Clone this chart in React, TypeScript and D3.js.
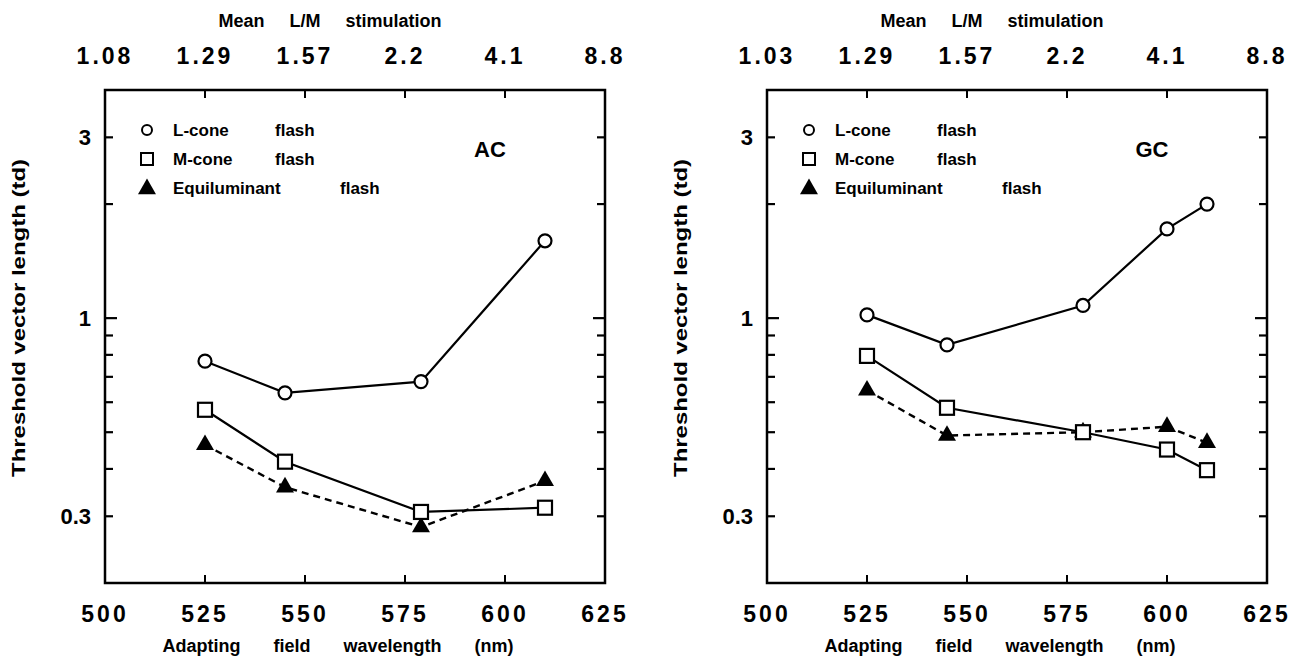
import React from "react";
import * as d3 from "d3";

const wavelengthsAC = [525, 545, 579, 610];
const lConeAC = [0.77, 0.635, 0.68, 1.6];
const mConeAC = [0.573, 0.418, 0.308, 0.316];
const equiAC = [0.463, 0.358, 0.281, 0.372];

const wavelengthsGC = [525, 545, 579, 600, 610];
const lConeGC = [1.02, 0.85, 1.08, 1.72, 2.0];
const mConeGC = [0.795, 0.58, 0.5, 0.45, 0.397];
const equiGC = [0.645, 0.49, 0.5, 0.517, 0.469];

const xTicks = [500, 525, 550, 575, 600, 625];
const topLabelsAC = ["1.08", "1.29", "1.57", "2.2", "4.1", "8.8"];
const topLabelsGC = ["1.03", "1.29", "1.57", "2.2", "4.1", "8.8"];
const yMinorTicks = [0.3, 0.4, 0.5, 0.6, 0.7, 0.8, 0.9, 1, 2, 3];
const yLabels = [3, 1, 0.3];
const legendItems = ["L-cone", "M-cone", "Equiluminant"];

const FONT = "'Liberation Sans', Arial, sans-serif";

type PanelProps = {
  ox: number;
  name: string;
  topLabels: string[];
  wl: number[];
  l: number[];
  m: number[];
  e: number[];
};

function Panel({ ox, name, topLabels, wl, l, m, e }: PanelProps) {
  const left = ox + 105;
  const right = ox + 605;
  const top = 90;
  const bottom = 583;
  const x = d3.scaleLinear().domain([500, 625]).range([left, right]);
  const y = d3.scaleLog().domain([0.2, 4]).range([bottom, top]);
  const line = d3
    .line<[number, number]>()
    .x((d) => x(d[0]))
    .y((d) => y(d[1]));
  const pts = (vals: number[]) => wl.map((w, i) => [w, vals[i]] as [number, number]);
  const tri = d3.symbol().type(d3.symbolTriangle).size(140)();
  const black = "#000";

  return (
    <g>
      <rect x={left} y={top} width={right - left} height={bottom - top} fill="none" stroke={black} strokeWidth={2.5} />
      {xTicks.slice(1, -1).map((t) => (
        <g key={"xt" + t}>
          <line x1={x(t)} x2={x(t)} y1={top} y2={top + 8} stroke={black} strokeWidth={2} />
          <line x1={x(t)} x2={x(t)} y1={bottom} y2={bottom - 8} stroke={black} strokeWidth={2} />
        </g>
      ))}
      {yMinorTicks.map((t) => {
        const len = t === 1 ? 12 : 8;
        return (
          <g key={"yt" + t}>
            <line x1={left} x2={left + len} y1={y(t)} y2={y(t)} stroke={black} strokeWidth={2.2} />
            <line x1={right} x2={right - len} y1={y(t)} y2={y(t)} stroke={black} strokeWidth={2.2} />
          </g>
        );
      })}
      {yLabels.map((t) => (
        <text key={"yl" + t} x={left - 14} y={y(t) + 8} textAnchor="end" fontFamily={FONT} fontSize={22} fontWeight="bold">
          {String(t)}
        </text>
      ))}
      {xTicks.map((t) => (
        <text key={"bl" + t} x={x(t)} y={622} textAnchor="middle" fontFamily={FONT} fontSize={23} fontWeight="bold" letterSpacing={3}>
          {String(t)}
        </text>
      ))}
      {xTicks.map((t, i) => (
        <text key={"tl" + t} x={x(t)} y={64} textAnchor="middle" fontFamily={FONT} fontSize={23} fontWeight="bold" letterSpacing={3}>
          {topLabels[i]}
        </text>
      ))}
      <text x={ox + 330} y={27} textAnchor="middle" fontFamily={FONT} fontSize={18} fontWeight="bold" wordSpacing={20}>
        Mean L/M stimulation
      </text>
      <text x={ox + 338} y={652} textAnchor="middle" fontFamily={FONT} fontSize={18} fontWeight="bold" wordSpacing={28}>
        Adapting field wavelength (nm)
      </text>
      <text
        transform={`translate(${ox + 25},318) rotate(-90)`}
        textAnchor="middle"
        fontFamily={FONT}
        fontSize={18}
        fontWeight="bold"
        textLength={318}
        lengthAdjust="spacingAndGlyphs"
      >
        Threshold vector length (td)
      </text>
      {legendItems.map((lab, i) => {
        const ly = 130 + i * 29;
        const sx = left + 42;
        return (
          <g key={"lg" + lab}>
            {i === 0 && <circle cx={sx} cy={ly} r={5} fill="#fff" stroke={black} strokeWidth={2} />}
            {i === 1 && <rect x={sx - 6} y={ly - 6} width={12} height={12} fill="#fff" stroke={black} strokeWidth={2} />}
            {i === 2 && <path d={tri!} transform={`translate(${sx},${ly + 1})`} fill={black} />}
            <text x={left + 68} y={ly + 6} fontFamily={FONT} fontSize={17} fontWeight="bold">
              {lab}
            </text>
            <text x={i === 2 ? left + 235 : left + 170} y={ly + 6} fontFamily={FONT} fontSize={17} fontWeight="bold">
              flash
            </text>
          </g>
        );
      })}
      <text x={left + 385} y={157} textAnchor="middle" fontFamily={FONT} fontSize={22} fontWeight="bold">
        {name}
      </text>
      <path d={line(pts(l))!} fill="none" stroke={black} strokeWidth={2.2} />
      <path d={line(pts(m))!} fill="none" stroke={black} strokeWidth={2.2} />
      <path d={line(pts(e))!} fill="none" stroke={black} strokeWidth={2.4} strokeDasharray="7,5" />
      {pts(e).map((d, i) => (
        <path key={"e" + i} d={tri!} transform={`translate(${x(d[0])},${y(d[1])})`} fill={black} />
      ))}
      {pts(m).map((d, i) => (
        <rect key={"m" + i} x={x(d[0]) - 7} y={y(d[1]) - 7} width={14} height={14} fill="#fff" stroke={black} strokeWidth={2.2} />
      ))}
      {pts(l).map((d, i) => (
        <circle key={"l" + i} cx={x(d[0])} cy={y(d[1])} r={6.5} fill="#fff" stroke={black} strokeWidth={2.2} />
      ))}
    </g>
  );
}

export default function App() {
  return (
    <svg
      width={1309}
      height={664}
      viewBox="0 0 1309 664"
      style={{ position: "absolute", left: 0, top: 0, background: "#fff" }}
    >
      <rect x={0} y={0} width={1309} height={664} fill="#fff" />
      <Panel ox={0} name="AC" topLabels={topLabelsAC} wl={wavelengthsAC} l={lConeAC} m={mConeAC} e={equiAC} />
      <Panel ox={662} name="GC" topLabels={topLabelsGC} wl={wavelengthsGC} l={lConeGC} m={mConeGC} e={equiGC} />
    </svg>
  );
}
